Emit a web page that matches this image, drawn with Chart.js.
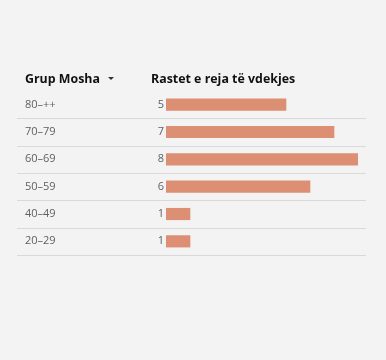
<!DOCTYPE html>
<html>
<head>
<meta charset="utf-8">
<script src="https://cdn.jsdelivr.net/npm/chart.js@4"></script>
<style>
  html, body { margin: 0; padding: 0; background: #f3f3f3; }
  #wrap { width: 386px; height: 360px; }
</style>
</head>
<body>
<div id="wrap"><canvas id="chart" width="386" height="360"></canvas></div>
<script>
const ageGroups = ["80\u2013++", "70\u201379", "60\u201369", "50\u201359", "40\u201349", "20\u201329"];
const newDeaths = [5, 7, 8, 6, 1, 1];
const headerLeft = "Grup Mosha";
const headerRight = "Rastet e reja t\u00eb vdekjes";

const FONT = "'Open Sans', 'Noto Sans', sans-serif";

// draws the header, the group labels, the value labels and the row lines
const tablePlugin = {
    id: 'tablePlugin',
    afterDatasetsDraw(chart) {
        const ctx = chart.ctx;
        const y = chart.scales.y;
        const x = chart.scales.x;
        ctx.save();

        // header
        ctx.fillStyle = '#111';
        ctx.font = "bold 12.4px " + FONT;
        ctx.textBaseline = 'middle';
        ctx.textAlign = 'left';
        ctx.fillText(headerLeft, 25, 79);
        ctx.fillText(headerRight, 151, 79);
        ctx.beginPath();
        ctx.moveTo(108, 77);
        ctx.lineTo(114, 77);
        ctx.lineTo(111, 80);
        ctx.closePath();
        ctx.fillStyle = '#333';
        ctx.fill();

        ctx.font = "11px " + FONT;
        ageGroups.forEach((g, i) => {
            const cy = y.getPixelForValue(i);
            ctx.fillStyle = '#606060';
            ctx.textAlign = 'left';
            ctx.fillText(g, 25, cy);
            ctx.textAlign = 'right';
            ctx.fillText(String(newDeaths[i]), x.getPixelForValue(0) - 2, cy);

            // line under the row
            const half = (y.getPixelForValue(1) - y.getPixelForValue(0)) / 2;
            const ly = Math.round(cy + half) + 0.5;
            ctx.strokeStyle = '#d9d9d9';
            ctx.lineWidth = 1;
            ctx.beginPath();
            ctx.moveTo(17, ly);
            ctx.lineTo(366, ly);
            ctx.stroke();
        });
        ctx.restore();
    }
};

new Chart(document.getElementById('chart'), {
    type: 'bar',
    data: {
        labels: ageGroups,
        datasets: [{
            data: newDeaths,
            backgroundColor: '#dc8f73',
            barThickness: 11.5
        }]
    },
    options: {
        indexAxis: 'y',
        responsive: false,
        animation: false,
        layout: { padding: { left: 166, right: 28, top: 91, bottom: 105 } },
        scales: {
            x: { display: false, min: 0, max: 8 },
            y: { display: false, offset: true }
        },
        plugins: {
            legend: { display: false },
            tooltip: { enabled: false }
        }
    },
    plugins: [tablePlugin]
});
</script>
</body>
</html>
